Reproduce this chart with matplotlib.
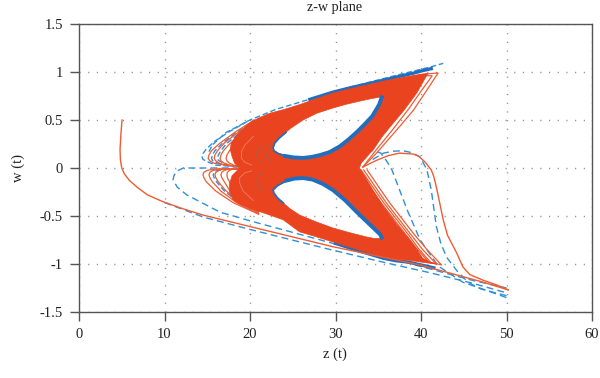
import matplotlib.pyplot as plt
from matplotlib.path import Path
from matplotlib.patches import PathPatch

plt.rcParams['font.family'] = ['Liberation Serif', 'DejaVu Serif']

x_ticks = [0, 10, 20, 30, 40, 50, 60]
y_ticks = [-1.5, -1, -0.5, 0, 0.5, 1, 1.5]
y_labels = ['-1.5', '-1', '-0.5', '0', '0.5', '1', '1.5']

# dense part of the attractor, outline
outer_z = [18.8, 18.2, 17.9, 17.7, 17.8, 18.5, 19.2, 20, 21, 22.3, 24, 25.8, 27.7, 29.7, 31.7, 33.7, 35.4, 37, 39, 40.8,
           40.2, 39.5, 38, 36.4, 35.4, 34.5, 33.6, 33, 32.8,
           33.5, 34.5, 35.6, 37.1, 38.7, 39.6, 40.2, 41, 41.8, 40, 38.5, 37, 35.6, 32.6, 29.7, 27.7, 25.8, 24.8, 23.9, 22, 20, 18.9, 18, 17.6, 17.6, 17.9]
outer_w = [0.0, 0.05, 0.12, 0.19, 0.26, 0.35, 0.41, 0.47, 0.52, 0.57, 0.61, 0.66, 0.72, 0.78, 0.825, 0.865, 0.9, 0.93, 0.96, 0.985,
           0.89, 0.78, 0.6, 0.43, 0.32, 0.2, 0.11, 0.05, 0.0,
           -0.1, -0.25, -0.4, -0.58, -0.75, -0.86, -0.94, -0.98, -1.0, -0.98, -0.96, -0.95, -0.93, -0.85, -0.77, -0.715, -0.665, -0.6, -0.54, -0.48, -0.42, -0.38, -0.33, -0.25, -0.17, -0.08]
hole_up_z = [22.7, 22.9, 23.4, 24.7, 26.2, 27.8, 29.7, 31.3, 33, 34.3, 35.3, 35.1, 34.3, 33.4, 32.5, 31.5, 30.5, 29.3, 28.2, 27.2, 26.2, 25.1, 24.1, 23.3, 22.8]
hole_up_w = [0.21, 0.26, 0.31, 0.41, 0.5, 0.57, 0.625, 0.665, 0.7, 0.725, 0.74, 0.68, 0.55, 0.47, 0.39, 0.31, 0.24, 0.18, 0.146, 0.125, 0.115, 0.12, 0.135, 0.155, 0.18]
hole_lo_z = [22.7, 23.2, 24.3, 25.2, 26.2, 27.3, 28.5, 29.7, 31.1, 32.5, 33.9, 35.2, 35.4, 34.6, 33.7, 31.7, 29.7, 27.7, 25.8, 24.7, 23.9, 23.2, 22.8]
hole_lo_w = [-0.23, -0.185, -0.14, -0.12, -0.115, -0.13, -0.175, -0.24, -0.345, -0.47, -0.59, -0.7, -0.73, -0.735, -0.72, -0.675, -0.625, -0.56, -0.49, -0.425, -0.365, -0.31, -0.26]

# blue rim inside each hole, only on the side that faces the middle
rim_up_z = [35.4, 35.1, 34.3, 33.4, 32.5, 31.5, 30.5, 29.3, 28.2, 27.2, 26.2, 25.1, 24.1]
rim_up_w = [0.735, 0.66, 0.54, 0.455, 0.375, 0.295, 0.225, 0.165, 0.135, 0.115, 0.105, 0.11, 0.125]
rim_up_left_z = [24.1, 23.3, 22.8, 22.7, 22.9, 23.4, 24.2]
rim_up_left_w = [0.125, 0.15, 0.18, 0.21, 0.26, 0.31, 0.37]
rim_lo_z = [24.3, 25.2, 26.2, 27.3, 28.5, 29.7, 31.1, 32.5, 33.9, 35.2, 35.4]
rim_lo_w = [-0.13, -0.11, -0.105, -0.12, -0.165, -0.23, -0.335, -0.46, -0.58, -0.69, -0.725]
rim_lo_left_z = [24.3, 23.2, 22.7, 22.8, 23.2, 23.9]
rim_lo_left_w = [-0.13, -0.185, -0.23, -0.26, -0.31, -0.365]

# thick blue edges next to the dense part
blue_top_z = [27, 29.7, 31.7, 33.7, 35.4, 37, 39, 40, 41.2]
blue_top_w = [0.715, 0.79, 0.835, 0.875, 0.91, 0.945, 0.985, 1.01, 1.035]
blue_bot_z = [30, 32.6, 35.6, 37, 38.5, 40, 41.5]
blue_bot_w = [-0.785, -0.86, -0.94, -0.965, -0.98, -1.01, -1.04]

# thin orbits on the left of each lobe
lace_up_z = [[19.5, 18, 17, 15.8, 15.3, 15.1, 15.2, 15.5, 16.5, 18.2, 20.5],
             [19.5, 18, 17.2, 16.4, 16, 15.8, 15.9, 16.2, 17, 18.6, 20.8],
             [19.6, 18.4, 17.6, 17, 16.6, 16.5, 16.6, 16.9, 17.6, 19, 21],
             [19.8, 18.8, 18.1, 17.6, 17.3, 17.2, 17.3, 17.6, 18.2, 19.4, 21.2]]
lace_up_w = [[0.01, 0.02, 0.03, 0.05, 0.075, 0.1, 0.135, 0.18, 0.26, 0.37, 0.5],
             [0.01, 0.02, 0.03, 0.05, 0.075, 0.1, 0.135, 0.18, 0.26, 0.37, 0.5],
             [0.01, 0.02, 0.03, 0.05, 0.075, 0.1, 0.135, 0.18, 0.25, 0.35, 0.48],
             [0.01, 0.02, 0.03, 0.05, 0.075, 0.1, 0.135, 0.18, 0.25, 0.35, 0.47]]
lace_lo_z = [[19.5, 17.5, 16, 15, 14.6, 14.5, 14.6, 14.9, 16, 18, 21],
             [19.5, 17.8, 16.5, 15.7, 15.3, 15.2, 15.3, 15.6, 16.6, 18.4, 21],
             [19.6, 18, 17, 16.4, 16, 15.9, 16, 16.3, 17.1, 18.7, 21],
             [19.7, 18.3, 17.5, 17, 16.7, 16.6, 16.7, 17, 17.6, 19, 21],
             [19.8, 18.6, 18, 17.6, 17.35, 17.3, 17.35, 17.6, 18.1, 19.3, 21]]
lace_lo_w = [[-0.01, -0.01, -0.01, -0.025, -0.045, -0.07, -0.1, -0.145, -0.24, -0.36, -0.48],
             [-0.01, -0.01, -0.01, -0.025, -0.045, -0.07, -0.1, -0.145, -0.24, -0.36, -0.48],
             [-0.01, -0.01, -0.01, -0.025, -0.045, -0.07, -0.1, -0.145, -0.23, -0.35, -0.47],
             [-0.01, -0.01, -0.01, -0.025, -0.045, -0.07, -0.1, -0.145, -0.23, -0.34, -0.46],
             [-0.01, -0.01, -0.01, -0.025, -0.045, -0.07, -0.1, -0.145, -0.22, -0.33, -0.45]]
lace_blue_z = [[19.5, 17.5, 16, 14.9, 14.5, 14.4, 14.5, 14.9, 15.9, 17.6, 20],
               [19.5, 18, 17, 16, 15.6, 15.5, 15.6, 15.9, 16.8, 18.4, 20.5],
               [19.6, 18.4, 17.4, 16.7, 16.3, 16.2, 16.3, 16.6, 17.2, 18.6, 20.5],
               [19.5, 18, 17, 16.2, 15.8, 15.7, 15.8, 16.1, 16.9, 18.5, 21]]
lace_blue_w = [[0.01, 0.02, 0.03, 0.07, 0.09, 0.115, 0.15, 0.2, 0.28, 0.38, 0.5],
               [0.01, 0.02, 0.03, 0.06, 0.08, 0.1, 0.135, 0.18, 0.26, 0.37, 0.5],
               [0.01, 0.02, 0.03, 0.06, 0.08, 0.1, 0.135, 0.18, 0.25, 0.35, 0.46],
               [-0.01, -0.01, -0.01, -0.025, -0.045, -0.07, -0.1, -0.145, -0.23, -0.35, -0.47]]

# light and dark streaks inside the dense part
streak_z = [[20.2, 19.4, 19, 19, 19.4, 20.4], [20.2, 19.4, 18.8, 18.8, 19.2, 20.4]]
streak_w = [[0.03, 0.06, 0.1, 0.17, 0.24, 0.33], [-0.03, -0.05, -0.1, -0.16, -0.24, -0.34]]
gray_z = [[21.3, 20.9, 20.8, 21, 21.5], [22.4, 22, 21.9, 22.1, 22.5], [21.3, 20.9, 20.8, 21, 21.5]]
gray_w = [[0.06, 0.1, 0.14, 0.19, 0.24], [0.07, 0.11, 0.15, 0.2, 0.24], [-0.06, -0.1, -0.14, -0.19, -0.24]]

# thin orbits running out to the two right tips
tip_lo_z = [[33.7, 35, 36.4, 37.8, 39.1, 40.7, 42.4, 40.5, 37],
            [33.3, 34.6, 36, 37.4, 38.7, 40.2, 41.8, 40.2, 36.6],
            [33, 34.3, 35.7, 37.1, 38.4, 39.8, 41.2, 39.8, 36.2],
            [32.8, 34, 35.4, 36.8, 38.1, 39.5, 40.8, 39.4, 36]]
tip_lo_w = [[-0.02, -0.19, -0.37, -0.53, -0.68, -0.85, -1.01, -0.97, -0.89],
            [-0.02, -0.19, -0.37, -0.53, -0.68, -0.85, -1.0, -0.97, -0.89],
            [-0.02, -0.19, -0.37, -0.53, -0.68, -0.85, -0.99, -0.95, -0.87],
            [-0.02, -0.19, -0.37, -0.53, -0.68, -0.84, -0.97, -0.93, -0.86]]
tip_up_z = [[33.2, 34.8, 37, 39.1, 40.6, 42, 40, 37],
            [33.2, 34.5, 36.6, 38.6, 40, 41.3, 39.8, 36.8]]
tip_up_w = [[0.01, 0.155, 0.38, 0.6, 0.8, 0.99, 0.975, 0.92],
            [0.01, 0.16, 0.39, 0.62, 0.8, 0.96, 0.965, 0.91]]

# orange trajectory from the start point out to z = 50 and back
start_z = [5.03, 4.9, 4.8, 4.85, 5, 5.3, 5.9, 6.8, 8, 9.8, 12, 14.5, 20, 29.7, 39.9, 47.3, 50.2]
start_w = [0.5, 0.35, 0.19, 0.08, 0.0, -0.06, -0.13, -0.2, -0.28, -0.35, -0.42, -0.49, -0.61, -0.82, -1.01, -1.19, -1.27]
back_z = [50.2, 48.9, 47.3, 45.7, 44.9, 44.2, 43.1, 42.6, 42.2, 41.8, 41.5, 41.2, 40.5, 39.7, 39.1, 37.5, 36.2, 34.8, 33.2]
back_w = [-1.27, -1.22, -1.17, -1.11, -1.03, -0.89, -0.7, -0.54, -0.37, -0.2, -0.09, -0.02, 0.06, 0.125, 0.145, 0.155, 0.13, 0.08, 0.01]

# blue dashed trajectories
dash1_z = [10, 14.5, 20, 29.4, 36, 41, 46, 50]
dash1_w = [-0.36, -0.51, -0.64, -0.85, -0.99, -1.09, -1.2, -1.3]
dash2_z = [50, 47, 45.5, 44.2, 43, 42.3, 41.8, 41.5, 41.2, 40.7, 39.9, 38.9, 37.9, 36.8, 35.6, 34.2]
dash2_w = [-1.33, -1.26, -1.19, -1.07, -0.93, -0.78, -0.61, -0.42, -0.23, -0.02, 0.115, 0.16, 0.18, 0.175, 0.155, 0.08]
dash3_z = [33.6, 34.5, 35.3, 36, 36.6, 37.5, 38.4, 39.9, 42, 44.9, 47.5, 50]
dash3_w = [0.18, 0.18, 0.155, 0.07, -0.02, -0.23, -0.44, -0.75, -1.02, -1.19, -1.27, -1.35]
dash4_z = [18.8, 15, 12.2, 11.5, 11.1, 11, 11.5, 12.6, 16.5, 20.4, 26.2, 29.5, 36, 41, 46, 50]
dash4_w = [0.0, 0.0, 0.0, -0.03, -0.08, -0.125, -0.2, -0.28, -0.46, -0.56, -0.7, -0.78, -0.93, -1.05, -1.17, -1.25]
dash5_z = [15.2, 15.6, 17.2, 20, 23, 26, 30, 34, 38, 41, 42.6]
dash5_w = [0.17, 0.24, 0.37, 0.5, 0.61, 0.69, 0.8, 0.895, 0.985, 1.05, 1.09]

orange = '#e9431f'
orange_thin = '#ef5c33'
blue = '#1f6fbe'
blue_dash = '#2e90d8'
dark = '#555555'


def closed_path(z, w):
    return Path(list(zip(z + z[:1], w + w[:1])), closed=True)


fig = plt.figure(figsize=(6, 3.78), dpi=100)
ax = fig.add_axes([79 / 600, 1 - 312 / 378, 513 / 600, 288 / 378])

ax.plot(dash1_z, dash1_w, color=blue_dash, lw=1, ls=(0, (5, 3)))
ax.plot(dash2_z, dash2_w, color=blue_dash, lw=1, ls=(0, (5, 3)))
ax.plot(dash3_z, dash3_w, color=blue_dash, lw=1, ls=(0, (5, 3)))
ax.plot(dash4_z, dash4_w, color=blue_dash, lw=1, ls=(0, (5, 3)))
ax.plot(dash5_z, dash5_w, color=blue_dash, lw=1, ls=(0, (4, 2)))
ax.plot(blue_top_z, blue_top_w, color=blue, lw=2.4)
ax.plot(blue_bot_z, blue_bot_w, color=blue, lw=2.4)

for z, w in zip(lace_blue_z, lace_blue_w):
    ax.plot(z, w, color=blue_dash, lw=1, ls=(0, (4, 2)))
for z, w in zip(lace_up_z + lace_lo_z, lace_up_w + lace_lo_w):
    ax.plot(z, w, color=orange_thin, lw=0.9)
for z, w in zip(tip_lo_z + tip_up_z, tip_lo_w + tip_up_w):
    ax.plot(z, w, color=orange_thin, lw=0.9)

# holes run the opposite way round from the outline so they stay empty
band = Path.make_compound_path(closed_path(outer_z, outer_w),
                               closed_path(hole_up_z[::-1], hole_up_w[::-1]),
                               closed_path(hole_lo_z[::-1], hole_lo_w[::-1]))
ax.add_patch(PathPatch(band, facecolor=orange, edgecolor=orange, lw=0.5, zorder=3))

ax.plot(rim_up_z, rim_up_w, color=blue, lw=2.8, zorder=3.5)
ax.plot(rim_lo_z, rim_lo_w, color=blue, lw=2.8, zorder=3.5)
ax.plot(rim_up_left_z, rim_up_left_w, color=blue, lw=1.3, zorder=3.5)
ax.plot(rim_lo_left_z, rim_lo_left_w, color=blue, lw=1.3, zorder=3.5)

for z, w in zip(streak_z, streak_w):
    ax.plot(z, w, color='#f28a6c', lw=0.5, zorder=3.5)
for z, w in zip(gray_z, gray_w):
    ax.plot(z, w, color='#8a6a60', lw=0.7, ls=(0, (4, 2)), zorder=3.5)

ax.plot(start_z, start_w, color=orange_thin, lw=1, zorder=4)
ax.plot(back_z, back_w, color=orange_thin, lw=1, zorder=4)

ax.set_xlim(0, 60)
ax.set_ylim(-1.5, 1.5)
ax.set_xticks(x_ticks)
ax.set_yticks(y_ticks)
ax.set_yticklabels(y_labels)
ax.grid(True, color='#8a8a8a', lw=1, ls=(0, (0.8, 5.46)))
ax.set_axisbelow(True)
ax.tick_params(direction='out', length=6.5, width=1, color=dark, labelcolor='#222222', labelsize=10.5, pad=5)
for spine in ax.spines.values():
    spine.set_color(dark)
    spine.set_linewidth(1)

fig.text(335 / 600, 1 - 8 / 378, 'z-w plane', ha='center', va='center', fontsize=10.2, color='#222222')
fig.text(335 / 600, 1 - 354 / 378, 'z (t)', ha='center', va='center', fontsize=10.5, color='#222222')
fig.text(18 / 600, 1 - 168 / 378, 'w (t)', ha='center', va='center', rotation=90, fontsize=10.5, color='#222222')

fig.savefig('out.png', dpi=100)
